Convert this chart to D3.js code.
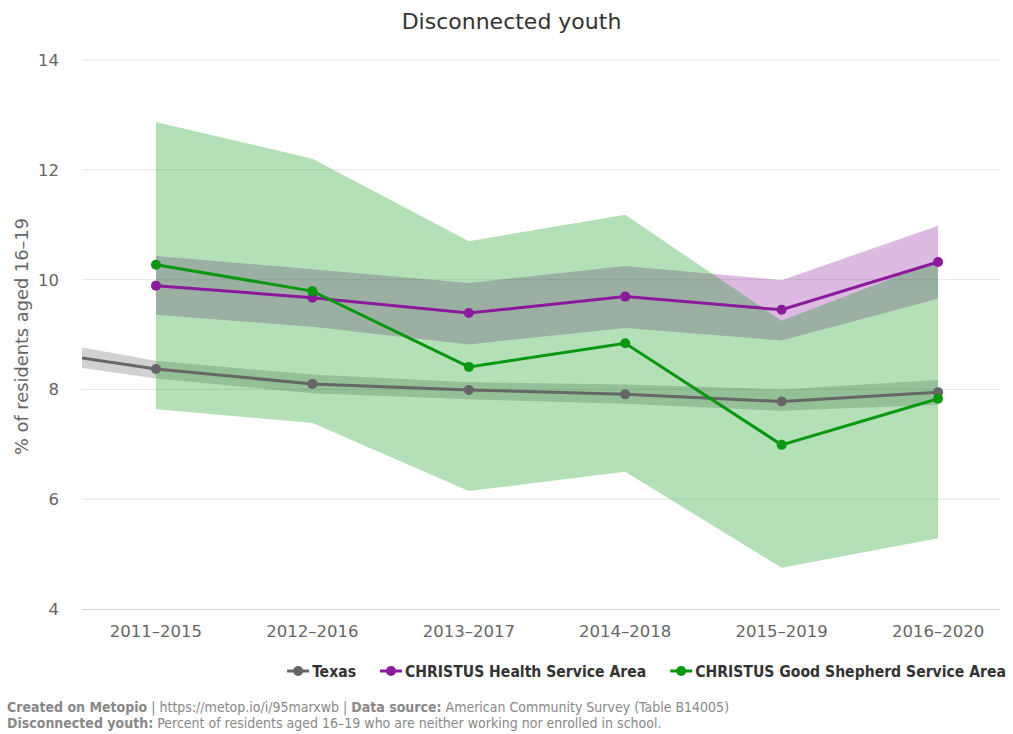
<!DOCTYPE html>
<html>
<head>
<meta charset="utf-8">
<script src="https://cdn.jsdelivr.net/npm/d3@7"></script>
<style>
  body { margin: 0; background: #fff; }
  svg { display: block; }
  .tick-label { font-family: "DejaVu Sans", sans-serif; font-size: 16.5px; fill: #666; }
  .legend-text { font-family: "DejaVu Sans Condensed", "DejaVu Sans", sans-serif; font-size: 15.6px; font-weight: bold; fill: #333; }
  .footer { font-family: "DejaVu Sans Condensed", "DejaVu Sans", sans-serif; font-size: 14px; fill: #888; }
</style>
</head>
<body>
<div id="chart"></div>
<script>
// periods (2010–2014 only exists for Texas and sits left of the visible area)
const periods = ['2010–2014', '2011–2015', '2012–2016', '2013–2017', '2014–2018', '2015–2019', '2016–2020'];
const yTicks = [4, 6, 8, 10, 12, 14];

const texas      = [8.80, 8.37, 8.10, 7.99, 7.91, 7.78, 7.95];
const texasLow   = [8.60, 8.20, 7.93, 7.82, 7.74, 7.61, 7.72];
const texasHigh  = [9.03, 8.52, 8.27, 8.13, 8.09, 8.00, 8.17];

const health     = [null, 9.89, 9.67, 9.39, 9.69, 9.45, 10.32];
const healthLow  = [null, 9.36, 9.14, 8.82, 9.12, 8.89, 9.65];
const healthHigh = [null, 10.43, 10.19, 9.94, 10.25, 9.99, 10.98];

const shepherd     = [null, 10.27, 9.79, 8.41, 8.84, 6.99, 7.83];
const shepherdLow  = [null, 7.64, 7.39, 6.15, 6.50, 4.75, 5.29];
const shepherdHigh = [null, 12.87, 12.20, 10.70, 11.18, 9.25, 10.35];

const seriesNames = ['Texas', 'CHRISTUS Health Service Area', 'CHRISTUS Good Shepherd Service Area'];
const seriesColors = ['#666666', '#8b1a9c', '#089810'];

const width = 1013, height = 734;
const margin = { top: 60, right: 13, bottom: 125, left: 82 };
const plotWidth = width - margin.left - margin.right;
const plotHeight = height - margin.top - margin.bottom;

const svg = d3.select('#chart').append('svg')
    .attr('width', width)
    .attr('height', height);

// title
svg.append('text')
    .attr('x', width / 2 + 5)
    .attr('y', 29)
    .attr('text-anchor', 'middle')
    .style('font-family', '"DejaVu Sans", sans-serif')
    .style('font-size', '22px')
    .style('fill', '#333')
    .text('Disconnected youth');

const xScale = d3.scaleLinear()
    .domain([0.527, 6.396])
    .range([0, plotWidth]);

const yScale = d3.scaleLinear()
    .domain([4, 14])
    .range([plotHeight, 0]);

const plot = svg.append('g')
    .attr('transform', 'translate(' + margin.left + ',' + margin.top + ')');

svg.append('defs').append('clipPath').attr('id', 'clip')
    .append('rect')
    .attr('x', 0).attr('y', -10)
    .attr('width', plotWidth).attr('height', plotHeight + 20);

// grid lines
plot.append('g')
    .selectAll('line')
    .data(yTicks.slice(1))
    .enter().append('line')
    .attr('x1', 0).attr('x2', plotWidth)
    .attr('y1', d => yScale(d)).attr('y2', d => yScale(d))
    .attr('stroke', '#e6e6e6')
    .attr('stroke-width', 1);

// y tick labels
plot.append('g')
    .selectAll('text')
    .data(yTicks)
    .enter().append('text')
    .attr('class', 'tick-label')
    .attr('x', -23)
    .attr('y', d => yScale(d) + 6)
    .attr('text-anchor', 'end')
    .text(d => d);

// x tick labels
const shownIdx = d3.range(periods.length).filter(i => i >= xScale.domain()[0] && i <= xScale.domain()[1]);
plot.append('g')
    .selectAll('text')
    .data(shownIdx)
    .enter().append('text')
    .attr('class', 'tick-label')
    .attr('x', i => xScale(i))
    .attr('y', plotHeight + 28)
    .attr('text-anchor', 'middle')
    .text(i => periods[i]);

// y axis title
svg.append('text')
    .attr('transform', 'translate(28,' + (margin.top + plotHeight / 2 + 2) + ') rotate(-90)')
    .attr('text-anchor', 'middle')
    .attr('class', 'tick-label')
    .style('font-size', '17.8px')
    .text('% of residents aged 16–19');

const series = [
    { values: texas, low: texasLow, high: texasHigh },
    { values: health, low: healthLow, high: healthHigh },
    { values: shepherd, low: shepherdLow, high: shepherdHigh }
];

const inner = plot.append('g').attr('clip-path', 'url(#clip)');

const area = d3.area()
    .defined(d => d.low != null)
    .x(d => xScale(d.i))
    .y0(d => yScale(d.low))
    .y1(d => yScale(d.high));

const line = d3.line()
    .defined(d => d.v != null)
    .x(d => xScale(d.i))
    .y(d => yScale(d.v));

// bands first
series.forEach(function(s, k) {
    const pts = s.values.map((v, i) => ({ i: i, low: s.low[i], high: s.high[i] }));
    inner.append('path')
        .attr('d', area(pts))
        .attr('fill', seriesColors[k])
        .attr('fill-opacity', 0.3);
});

// then lines and markers
series.forEach(function(s, k) {
    const pts = s.values.map((v, i) => ({ i: i, v: v }));
    inner.append('path')
        .attr('d', line(pts))
        .attr('fill', 'none')
        .attr('stroke', seriesColors[k])
        .attr('stroke-width', 3);
    inner.append('g')
        .selectAll('circle')
        .data(pts.filter(d => d.v != null))
        .enter().append('circle')
        .attr('cx', d => xScale(d.i))
        .attr('cy', d => yScale(d.v))
        .attr('r', 5)
        .attr('fill', seriesColors[k]);
});

// x axis baseline
plot.append('line')
    .attr('x1', 0).attr('x2', plotWidth)
    .attr('y1', plotHeight + 0.5).attr('y2', plotHeight + 0.5)
    .attr('stroke', '#ccd6eb');

// legend, right aligned
const legend = svg.append('g').attr('transform', 'translate(0,671)');
let items = [];
seriesNames.forEach(function(name, k) {
    const g = legend.append('g');
    g.append('line')
        .attr('x1', 0).attr('x2', 22)
        .attr('y1', 0).attr('y2', 0)
        .attr('stroke', seriesColors[k])
        .attr('stroke-width', 3);
    g.append('circle')
        .attr('cx', 11).attr('cy', 0).attr('r', 5)
        .attr('fill', seriesColors[k]);
    g.append('text')
        .attr('class', 'legend-text')
        .attr('x', 25)
        .attr('y', 5.5)
        .text(name);
    items.push(g);
});
let lx = 1006;
for (let k = items.length - 1; k >= 0; k--) {
    const w = items[k].node().getBBox().width;
    lx -= w;
    items[k].attr('transform', 'translate(' + lx + ',0)');
    lx -= 24;
}

// footer
const f1 = svg.append('text').attr('class', 'footer').attr('x', 7).attr('y', 712);
f1.append('tspan').style('font-weight', 'bold').text('Created on Metopio');
f1.append('tspan').text(' | https://metop.io/i/95marxwb | ');
f1.append('tspan').style('font-weight', 'bold').text('Data source:');
f1.append('tspan').text(' American Community Survey (Table B14005)');

const f2 = svg.append('text').attr('class', 'footer').attr('x', 7).attr('y', 728);
f2.append('tspan').style('font-weight', 'bold').text('Disconnected youth:');
f2.append('tspan').text(' Percent of residents aged 16–19 who are neither working nor enrolled in school.');
</script>
</body>
</html>
